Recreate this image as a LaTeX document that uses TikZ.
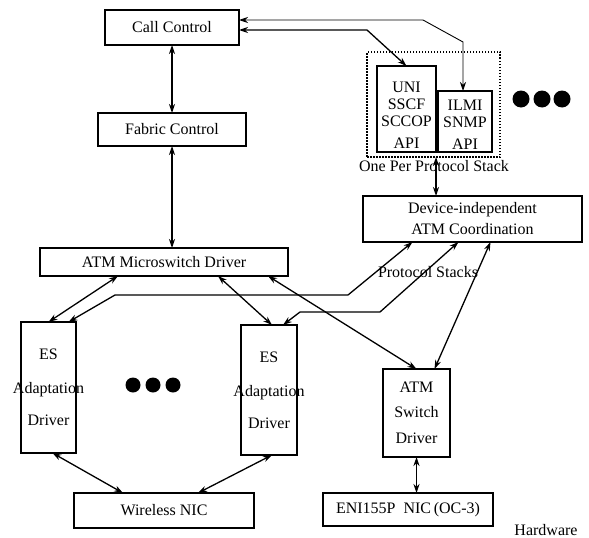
\documentclass[tikz,border=0pt]{standalone}
\usepackage{fontspec}
\setmainfont{Liberation Serif}
\usetikzlibrary{arrows.meta}
\begin{document}
\begin{tikzpicture}[x=1pt,y=-1pt,font=\fontsize{16}{17}\selectfont,
    box/.style = {rectangle,draw,line width=1.4pt,align=center,inner sep=0pt,outer sep=0pt},
    link/.style = {{Stealth[length=9pt,width=6pt]}-{Stealth[length=9pt,width=6pt]},line width=1.3pt},
    blob/.style = {circle,fill,inner sep=0pt}]
\useasboundingbox (0,0) rectangle (589,538);
\node[box,minimum width=134,minimum height=35] (callctl) at (172,27.5) {Call Control};
\node[box,minimum width=148,minimum height=33] (fabric) at (172,129.5) {Fabric Control};
\node[box,minimum width=248,minimum height=28] (microsw) at (164,262) {ATM Microswitch Driver};
\node[box,minimum width=55,minimum height=131] (esleft) at (48.5,387.5) {ES\\[17pt]\makebox[0pt]{Adaptation}\\[15pt]Driver};
\node[box,minimum width=56,minimum height=130] (esright) at (269,390) {ES\\[17pt]\makebox[0pt]{Adaptation}\\[15pt]Driver};
\node[box,minimum width=67,minimum height=88] (atmsw) at (416.5,413) {ATM\\[8pt]Switch\\[9pt]Driver};
\node[box,minimum width=180,minimum height=35] (wireless) at (164,510.5) {Wireless NIC};
\node[box,minimum width=170,minimum height=33] (eni) at (408,509.5) {ENI155P\ \ NIC\,(OC-3)};
\node[box,minimum width=219,minimum height=46] (device) at (472.5,219) {Device-independent\\[4pt]ATM Coordination};
% protocol stacks
\node[box,line width=1.2pt,dash pattern=on 1.5pt off 1.5pt,minimum width=133,minimum height=105] (stack) at (433.5,104.5) {};
\node[box,minimum width=59,minimum height=86] (uni) at (406.5,109) {\strut\\[-6pt]UNI\\SSCF\\SCCOP\\[5pt]API};
\node[box,minimum width=54,minimum height=61] (ilmi) at (465,121.5) {\strut\\[-12pt]ILMI\\SNMP\\[5pt]API};
\node (stacklbl) at (434,166) {One Per Protocol Stack};
\node (protolbl) at (428,272) {Protocol Stacks};
\node (hwlbl) at (546,530) {Hardware};
\foreach \x in {521,542,562}
    \node[blob,minimum size=17pt] (rdot\x) at (\x,99) {};
\foreach \x in {133,153,173}
    \node[blob,minimum size=15pt] (ldot\x) at (\x,385) {};
% bends
\coordinate (c1) at (367,30);
\coordinate (c2) at (423,20);
\coordinate (c3) at (463,42);
\coordinate (c4) at (348,295);
\coordinate (c5) at (115,295);
\coordinate (c6) at (380,312);
\coordinate (c7) at (300,312);
\draw[link] (callctl) -- (fabric);
\draw[link] (fabric.south) -- (fabric.south |- microsw.north);
\draw[link] (callctl.east |- c1) -- (c1) -- (uni.north);
\draw[link,line width=0.9pt] (callctl.east |- c2) -- (c2) -- (c3) -- (ilmi.north -| c3);
\draw[link] (stack.south -| uni.east) -- (device.north -| uni.east);
\draw[link] ([xshift=-46]microsw.south) -- (esleft.north);
\draw[link] ([xshift=54]microsw.south) -- ([xshift=3]esright.north);
\draw[link] ([xshift=104]microsw.south) -- (atmsw.north);
\draw[link] ([xshift=-60]device.south) -- (c4) -- (c5) -- ([xshift=20]esleft.north);
\draw[link] ([xshift=-14]device.south) -- (c6) -- (c7) -- ([xshift=14]esright.north);
\draw[link] ([xshift=18]device.south) -- ([xshift=18]atmsw.north);
\draw[link] (atmsw.south) -- (atmsw.south |- eni.north);
\draw[link] ([xshift=4]esleft.south) -- ([xshift=-41]wireless.north);
\draw[link] ([xshift=3]esright.south) -- ([xshift=34]wireless.north);
\end{tikzpicture}
\end{document}
